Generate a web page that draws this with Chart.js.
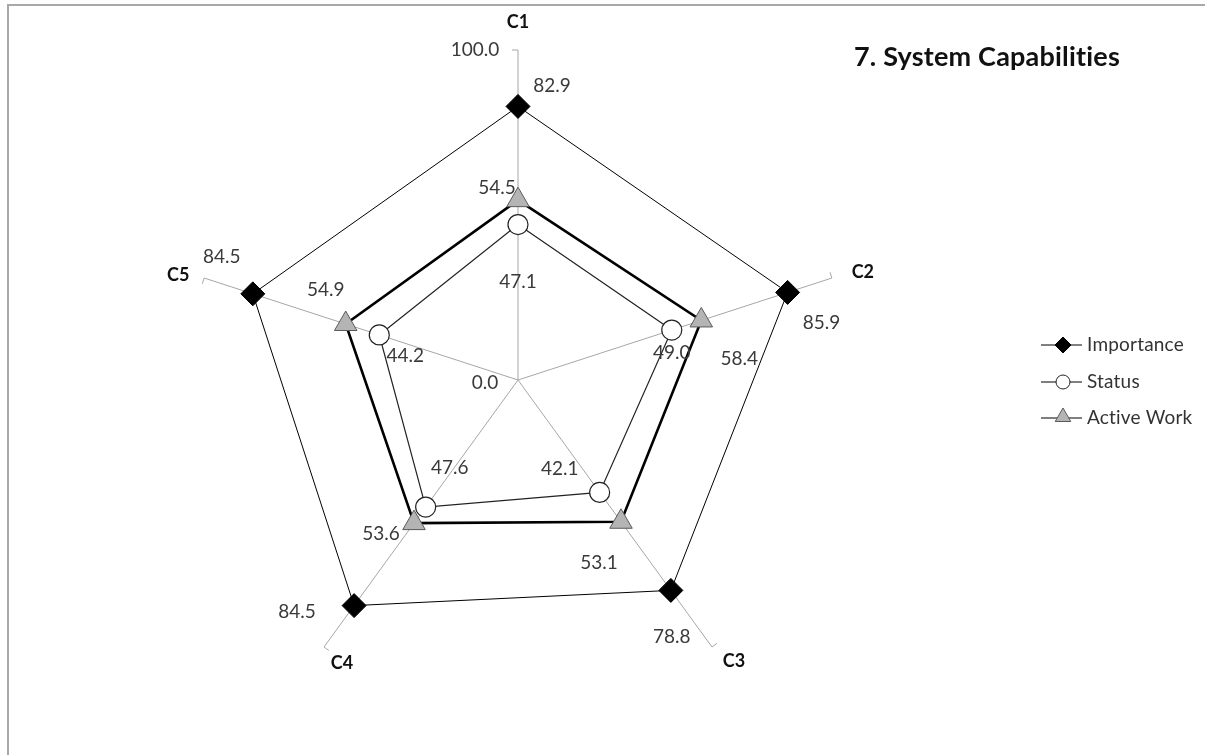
<!DOCTYPE html>
<html>
<head>
<meta charset="utf-8">
<title>7. System Capabilities</title>
<script src="https://cdn.jsdelivr.net/npm/chart.js@4/dist/chart.umd.min.js"></script>
<style>
  html, body { margin: 0; padding: 0; background: #fff; overflow: hidden; width: 1205px; height: 755px; }
  body { font-family: Lato, "Open Sans", sans-serif; font-variant-ligatures: none; font-feature-settings: "liga" 0, "clig" 0; }
  #frame { position: absolute; left: 7px; top: 4px; width: 1400px; height: 900px;
           border-top: 2px solid #a8a8a8; border-left: 2px solid #a8a8a8; }
  #chart { position: absolute; left: 0; top: 0; }
  #title { position: absolute; left: 787px; top: 41px; width: 400px; line-height: 30px;
           text-align: center; font-size: 27px; font-weight: bold; color: #111; letter-spacing: 0.2px; }
  .legend-label { position: absolute; left: 1087px; line-height: 24px; font-size: 19px; color: #333;
                  white-space: nowrap; letter-spacing: 0.2px; }
</style>
</head>
<body>
<div id="frame"></div>
<canvas id="chart" width="1205" height="755"></canvas>
<div id="title"></div>
<script>
// Capability categories around the radar
const categories = ['C1', 'C2', 'C3', 'C4', 'C5'];

// Series values (score out of 100)
const importance = [82.9, 85.9, 78.8, 84.5, 84.5];
const status     = [47.1, 49.0, 42.1, 47.6, 44.2];
const activeWork = [54.5, 58.4, 53.1, 53.6, 54.9];

// Value-axis labels shown along the first spoke
const radialTicks = [0, 100];

const chartTitle = '7. System Capabilities';
const seriesNames = ['Importance', 'Status', 'Active Work'];

const FONT = 'Lato, "Open Sans", sans-serif';

// Pixel nudges for each value label, relative to its marker
const labelOffsets = [
  [[34, -21], [34, 30], [1, 46], [-57, 6], [-31, -37]],    // Importance
  [[0, 57], [0, 23], [-40, -24], [24, -39], [26, 21]],     // Status
  [[-21, -12], [38, 38], [-22, 41], [-33, 11], [-20, -34]] // Active Work
];
// Nudges for the category names, relative to each spoke's outer end
const categoryOffsets = [[0, -28], [31, -6], [22, 14], [18, 16], [-26, -3]];
// Nudges for the value-axis labels relative to the first spoke
const radialTickOffsets = [[-33, 3], [-43, 0]];
// Legend rows (vertical centres)
const legendRows = [345, 382, 418];

document.getElementById('title').textContent = chartTitle;
seriesNames.forEach((name, i) => {
  const d = document.createElement('div');
  d.className = 'legend-label';
  d.style.top = (legendRows[i] - 13) + 'px';
  d.textContent = name;
  document.body.appendChild(d);
});

const datasets = [
  {
    label: seriesNames[0], data: importance,
    borderColor: '#000', borderWidth: 1, backgroundColor: 'transparent', fill: false,
    pointStyle: 'rectRot', pointRadius: 12, pointBackgroundColor: '#000',
    pointBorderColor: '#000', pointBorderWidth: 1
  },
  {
    label: seriesNames[1], data: status,
    borderColor: '#222', borderWidth: 1.2, backgroundColor: 'transparent', fill: false,
    pointStyle: 'circle', pointRadius: 10, pointBackgroundColor: '#fff',
    pointBorderColor: '#222', pointBorderWidth: 1.2
  },
  {
    label: seriesNames[2], data: activeWork,
    borderColor: '#000', borderWidth: 2.6, backgroundColor: 'transparent', fill: false,
    pointStyle: 'triangle', pointRadius: 13, pointBackgroundColor: '#b4b4b4',
    pointBorderColor: '#5a5a5a', pointBorderWidth: 1
  }
];

function drawMarker(ctx, style, x, y, r, fill, stroke, lw) {
  ctx.save();
  ctx.beginPath();
  if (style === 'rectRot') {
    ctx.moveTo(x - r, y); ctx.lineTo(x, y - r); ctx.lineTo(x + r, y); ctx.lineTo(x, y + r);
    ctx.closePath();
  } else if (style === 'circle') {
    ctx.arc(x, y, r, 0, Math.PI * 2);
  } else if (style === 'triangle') {
    const t = Math.PI * 2 / 3;
    for (let k = 0; k < 3; k++) {
      const a = k * t;
      const px = x + Math.sin(a) * r, py = y - Math.cos(a) * r;
      if (k === 0) ctx.moveTo(px, py); else ctx.lineTo(px, py);
    }
    ctx.closePath();
  }
  ctx.fillStyle = fill; ctx.fill();
  ctx.lineWidth = lw; ctx.strokeStyle = stroke; ctx.stroke();
  ctx.restore();
}

const decorations = {
  id: 'decorations',
  beforeDatasetsDraw(chart) {
    // small tick marks at the outer end of every spoke
    const ctx = chart.ctx, r = chart.scales.r;
    const outer = r.getDistanceFromCenterForValue(r.max);
    ctx.save();
    ctx.strokeStyle = '#a6a6a6'; ctx.lineWidth = 1;
    categories.forEach((c, i) => {
      const p = r.getPointPosition(i, outer);
      const dx = p.x - r.xCenter, dy = p.y - r.yCenter, len = Math.hypot(dx, dy);
      const ux = dx / len, uy = dy / len;
      ctx.beginPath();
      ctx.moveTo(p.x, p.y);
      ctx.lineTo(p.x + uy * 6, p.y - ux * 6);
      ctx.stroke();
    });
    ctx.restore();
  },
  afterDatasetsDraw(chart) {
    const ctx = chart.ctx, r = chart.scales.r;
    ctx.save();

    // value labels next to each marker
    ctx.font = '19px ' + FONT;
    ctx.fillStyle = '#3a3a3a';
    ctx.textAlign = 'center';
    ctx.textBaseline = 'middle';
    chart.data.datasets.forEach((ds, di) => {
      const meta = chart.getDatasetMeta(di);
      meta.data.forEach((pt, i) => {
        const off = labelOffsets[di][i];
        ctx.fillText(ds.data[i].toFixed(1), pt.x + off[0], pt.y + off[1]);
      });
    });

    // value-axis labels along the first spoke
    radialTicks.forEach((v, k) => {
      const p = r.getPointPosition(0, r.getDistanceFromCenterForValue(v));
      ctx.fillText(v.toFixed(1), p.x + radialTickOffsets[k][0], p.y + radialTickOffsets[k][1]);
    });

    // category names
    ctx.font = 'bold 18px ' + FONT;
    ctx.fillStyle = '#111';
    const outer = r.getDistanceFromCenterForValue(r.max);
    categories.forEach((c, i) => {
      const p = r.getPointPosition(i, outer);
      ctx.fillText(c, p.x + categoryOffsets[i][0], p.y + categoryOffsets[i][1]);
    });

    // legend keys: short line with the series marker
    const legendR = [8, 7, 9];
    chart.data.datasets.forEach((ds, di) => {
      const y = legendRows[di];
      ctx.strokeStyle = '#000'; ctx.lineWidth = 1;
      ctx.beginPath(); ctx.moveTo(1041, y); ctx.lineTo(1082, y); ctx.stroke();
      drawMarker(ctx, ds.pointStyle, 1063, di === 2 ? y - 1 : y, legendR[di],
                 ds.pointBackgroundColor, ds.pointBorderColor, 1);
    });

    ctx.restore();
  }
};

new Chart(document.getElementById('chart'), {
  type: 'radar',
  data: { labels: categories, datasets: datasets },
  options: {
    responsive: false,
    animation: false,
    devicePixelRatio: 1,
    layout: { padding: { left: 188, right: 357, top: 50, bottom: 45 } },
    elements: { line: { tension: 0 } },
    plugins: { legend: { display: false }, tooltip: { enabled: false }, title: { display: false } },
    scales: {
      r: {
        min: 0, max: 100,
        ticks: { display: false, stepSize: 100 },
        grid: { display: false },
        angleLines: { display: true, color: '#a6a6a6', lineWidth: 1 },
        pointLabels: { display: false }
      }
    }
  },
  plugins: [decorations]
});
</script>
</body>
</html>
